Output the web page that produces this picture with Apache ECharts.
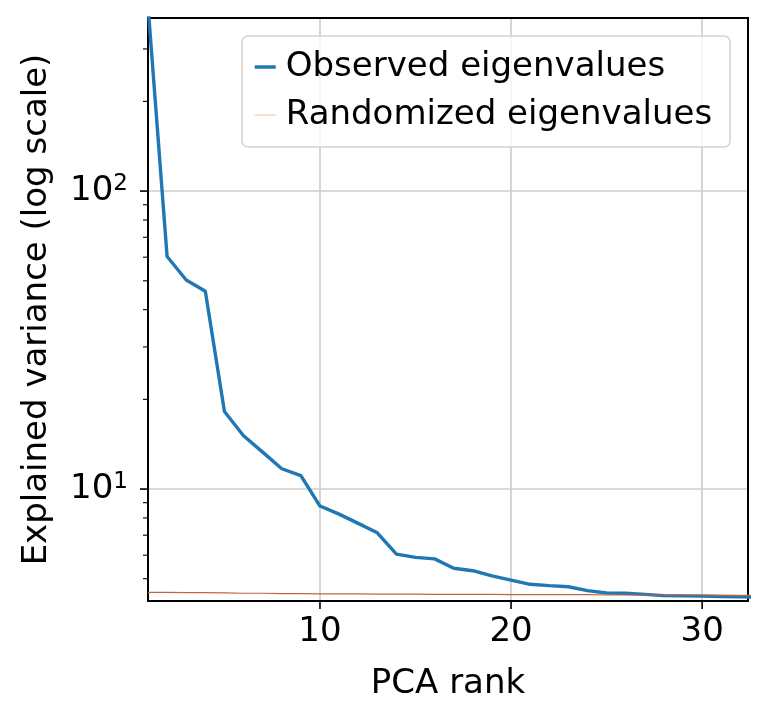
<!DOCTYPE html>
<html>
<head>
<meta charset="utf-8">
<title>PCA eigenvalues</title>
<script src="https://cdn.jsdelivr.net/npm/echarts@6/dist/echarts.min.js"></script>
<style>
  html, body { margin: 0; padding: 0; background: #fff; }
  #chart { width: 766px; height: 723px; }
</style>
</head>
<body>
<div id="chart"></div>
<script>
// values
var ranks = [1, 2, 3, 4, 5, 6, 7, 8, 9, 10, 11, 12, 13, 14, 15, 16, 17, 18, 19, 20,
  21, 22, 23, 24, 25, 26, 27, 28, 29, 30, 31, 32, 33]
var observed = [420, 60.3, 50.3, 46.1, 18.2, 15.1, 13.3, 11.7, 11.1, 8.77, 8.24, 7.67, 7.13,
  6.05, 5.90, 5.83, 5.42, 5.32, 5.11, 4.95, 4.79, 4.74, 4.70, 4.56, 4.48, 4.47, 4.43,
  4.39, 4.38, 4.37, 4.36, 4.35, 4.34]
var randomized = [4.50, 4.50, 4.49, 4.49, 4.48, 4.47, 4.47, 4.46, 4.46, 4.45, 4.45, 4.45, 4.44,
  4.44, 4.44, 4.43, 4.43, 4.43, 4.43, 4.42, 4.42, 4.42, 4.42, 4.42, 4.41, 4.41, 4.41,
  4.41, 4.41, 4.41, 4.40, 4.40, 4.40]
var xMajorTicks = [10, 20, 30]
var yMajorTicks = [10, 100]
var yMinorTicks = [5, 6, 7, 8, 9, 20, 30, 40, 50, 60, 70, 80, 90, 200, 300]

var xMin = 1, xMax = 32.4
var yMin = 4.21, yMax = 381
var font = 'DejaVu Sans'

var chart = echarts.init(document.getElementById('chart'))

function pairs(ys) {
  return ranks.map(function (r, i) { return [r, ys[i]] })
}

// tick marks (matplotlib style, outward), placed through the axes' own scales
var tickData = []
xMajorTicks.forEach(function (v) { tickData.push([v, yMin, 0]) })
yMajorTicks.forEach(function (v) { tickData.push([xMin, v, 1]) })
yMinorTicks.forEach(function (v) { tickData.push([xMin, v, 2]) })

function renderTick(params, api) {
  var p = api.coord([api.value(0), api.value(1)])
  var kind = api.value(2)
  var shape
  if (kind === 0) shape = { x1: p[0], y1: p[1], x2: p[0], y2: p[1] + 8 }
  else if (kind === 1) shape = { x1: p[0] - 8, y1: p[1], x2: p[0], y2: p[1] }
  else shape = { x1: p[0] - 5, y1: p[1], x2: p[0], y2: p[1] }
  return {
    type: 'line',
    shape: shape,
    style: { stroke: '#000', lineWidth: kind === 2 ? 1.1 : 1.6 }
  }
}

function powLabel(val) {
  var e = Math.round(Math.log10(val))
  if (Math.abs(Math.log10(val) - e) > 1e-6) return ''
  return '{b|10}{s|' + e + '}'
}

var spine = { show: true, lineStyle: { color: '#000', width: 2 } }
var grey = { show: true, lineStyle: { color: '#cccccc', width: 1.6 } }

chart.setOption({
  animation: false,
  textStyle: { fontFamily: font },
  grid: {
    left: 148,
    right: 18,
    top: 18,
    bottom: 122
  },
  legend: {
    orient: 'vertical',
    left: 242,
    top: 36,
    padding: [11, 18, 12, 11],
    itemGap: 8,
    itemWidth: 21,
    itemHeight: 14,
    backgroundColor: 'rgba(255,255,255,0.8)',
    borderColor: '#d4d4d4',
    borderWidth: 1.5,
    borderRadius: 6,
    textStyle: {
      fontFamily: font,
      fontSize: 34,
      color: '#000',
      lineHeight: 40,
      padding: [0, 0, 0, 5]
    },
    data: [
      {
        name: 'Observed eigenvalues',
        itemStyle: { opacity: 0 },
        lineStyle: { color: '#1f77b4', width: 3.5 }
      },
      {
        name: 'Randomized eigenvalues',
        itemStyle: { opacity: 0 },
        lineStyle: { color: 'rgba(255,127,14,0.5)', width: 1 }
      }
    ]
  },
  xAxis: [
    {
      type: 'value',
      min: xMin,
      max: xMax,
      splitNumber: 3,
      name: 'PCA rank',
      nameLocation: 'middle',
      nameGap: 66,
      nameTextStyle: { fontFamily: font, fontSize: 34, color: '#000' },
      axisLine: spine,
      axisTick: { show: false },
      axisLabel: {
        fontFamily: font,
        fontSize: 34,
        color: '#000',
        margin: 14,
        showMinLabel: false,
        showMaxLabel: false
      },
      splitLine: grey
    },
    {
      type: 'value',
      position: 'top',
      min: xMin,
      max: xMax,
      axisLine: spine,
      axisTick: { show: false },
      axisLabel: { show: false },
      splitLine: { show: false }
    }
  ],
  yAxis: [
    {
      type: 'log',
      logBase: 10,
      min: yMin,
      max: yMax,
      name: 'Explained variance (log scale)',
      nameLocation: 'middle',
      nameGap: 94,
      nameTextStyle: { fontFamily: font, fontSize: 34, color: '#000' },
      axisLine: spine,
      axisTick: { show: false },
      axisLabel: {
        margin: 20,
        showMinLabel: false,
        showMaxLabel: false,
        formatter: powLabel,
        rich: {
          b: { fontFamily: font, fontSize: 34, color: '#000', lineHeight: 38, verticalAlign: 'middle' },
          s: { fontFamily: font, fontSize: 23, color: '#000', verticalAlign: 'top' }
        }
      },
      splitLine: grey
    },
    {
      type: 'log',
      logBase: 10,
      position: 'right',
      min: yMin,
      max: yMax,
      axisLine: spine,
      axisTick: { show: false },
      axisLabel: { show: false },
      splitLine: { show: false }
    }
  ],
  series: [
    {
      name: 'Observed eigenvalues',
      type: 'line',
      data: pairs(observed),
      symbol: 'none',
      lineStyle: { color: '#1f77b4', width: 3.4 },
      itemStyle: { color: '#1f77b4' },
      z: 3
    },
    {
      name: 'Randomized eigenvalues',
      type: 'line',
      data: pairs(randomized),
      symbol: 'none',
      lineStyle: { color: '#c1653f', width: 1.2 },
      itemStyle: { color: '#c1653f' },
      z: 4
    },
    {
      name: 'ticks',
      type: 'custom',
      data: tickData,
      renderItem: renderTick,
      clip: false,
      silent: true,
      z: 10
    }
  ]
})
</script>
</body>
</html>
